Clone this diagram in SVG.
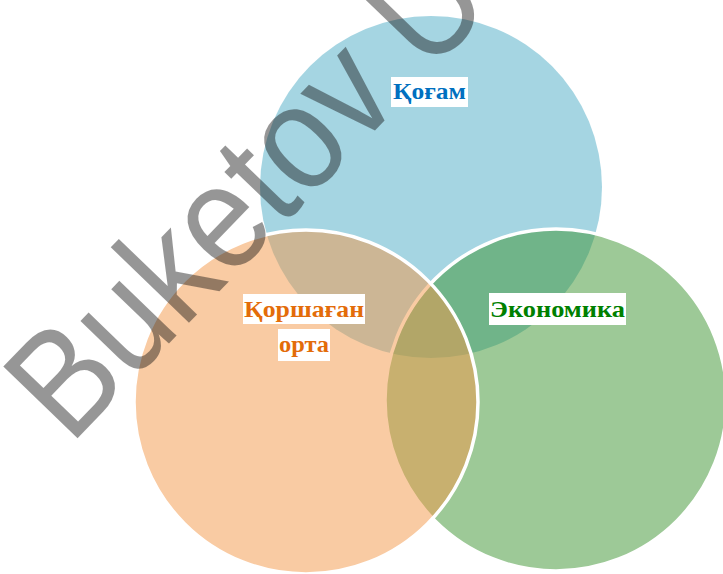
<svg xmlns="http://www.w3.org/2000/svg" width="723" height="574" viewBox="0 0 723 574">
<style>
.lbl{font-family:"Liberation Serif","Times New Roman",serif;font-weight:bold;font-size:23px;text-anchor:middle}
.box{fill:#ffffff}
.circ{stroke:#ffffff;stroke-width:3.5;fill-opacity:0.5}
</style>
<rect width="723" height="574" fill="#ffffff"/>
<g id="circle-kogam">
<circle cx="431" cy="187" r="171" fill="#4BACC6" fill-opacity="0.5"/>
</g>
<g id="circle-ekonomika">
<circle class="circ" cx="556" cy="400" r="171" fill="#3B9330"/>
</g>
<g id="circle-korshagan">
<circle class="circ" cx="306" cy="402" r="172" fill="#F39747"/>
</g>
<g id="watermark">
<text x="0" y="0" transform="translate(70,446) rotate(-46)" font-family="'Liberation Sans',Arial,sans-serif" font-size="150" fill="#101010" fill-opacity="0.44" textLength="612" lengthAdjust="spacingAndGlyphs">Buketov U</text>
</g>
<g id="label-kogam">
<rect class="box" x="391" y="77" width="77" height="30"/>
<text class="lbl" x="429.5" y="99" fill="#0070C0" textLength="73" lengthAdjust="spacingAndGlyphs">Қоғам</text>
</g>
<g id="label-korshagan">
<rect class="box" x="243" y="294" width="122" height="30"/>
<text class="lbl" x="304" y="317" fill="#E36C09" textLength="120" lengthAdjust="spacingAndGlyphs">Қоршаған</text>
<rect class="box" x="278" y="329" width="52" height="32"/>
<text class="lbl" x="304" y="352" fill="#E36C09" textLength="50" lengthAdjust="spacingAndGlyphs">орта</text>
</g>
<g id="label-ekonomika">
<rect class="box" x="489" y="293" width="137" height="32"/>
<text class="lbl" x="557.5" y="317" fill="#008000" textLength="135" lengthAdjust="spacingAndGlyphs">Экономика</text>
</g>
<g id="connectors"/>
</svg>
